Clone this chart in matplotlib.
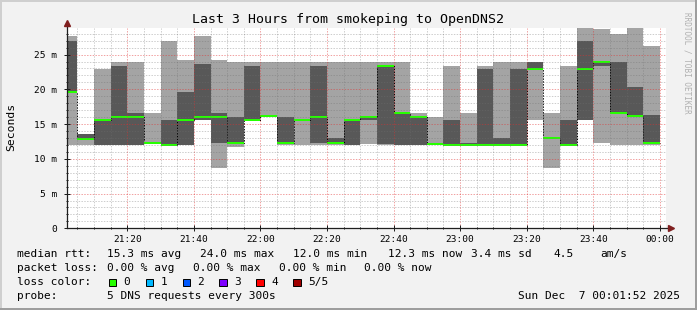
# =========================
# IMPORTS
# =========================
import numpy as np
import pandas as pd
import matplotlib
matplotlib.use("Agg")
import matplotlib.pyplot as plt
import matplotlib.dates as mdates
from matplotlib.patches import Rectangle

plt.rcParams['font.family'] = 'DejaVu Sans Mono'

# =========================
# DATA (ms, 5 DNS pings per 300s step, sorted)
# =========================
step_end = pd.date_range('2025-12-06 21:05', '2025-12-07 00:00', freq='5min')
t_start = pd.Timestamp('2025-12-06 21:01:52')
t_end = pd.Timestamp('2025-12-07 00:01:52')

ping_min = [12.0, 12.0, 12.0, 12.0, 12.0, 12.2, 11.95, 12.0, 15.58, 8.72,
            11.75, 15.55, 16.0, 12.0, 12.0, 12.0, 12.0, 12.0, 12.1, 12.0,
            12.0, 12.0, 12.0, 12.0, 12.0, 12.0, 12.0, 12.0, 15.58, 8.72,
            11.8, 15.58, 12.27, 12.0, 12.0, 12.0]
ping_lo = [19.66, 12.8, 12.0, 12.0, 12.0, 12.25, 11.95, 12.0, 15.58, 12.27,
           12.2, 15.55, 16.1, 12.2, 15.6, 12.3, 12.3, 12.0, 15.58, 12.2,
           12.0, 12.0, 12.2, 12.0, 12.0, 12.0, 12.0, 12.0, 22.92, 13.0,
           12.0, 15.58, 23.4, 16.59, 16.1, 12.3]
median = [19.66, 12.8, 15.65, 16.06, 16.06, 12.27, 12.0, 15.65, 16.06, 16.06,
          12.25, 15.65, 16.15, 12.3, 15.65, 16.06, 12.3, 15.6, 16.06, 23.38,
          16.6, 16.06, 12.2, 12.0, 12.0, 12.0, 12.0, 12.0, 22.92, 13.0,
          12.0, 22.92, 23.97, 16.59, 16.1, 12.3]
ping_hi = [26.95, 13.57, 15.75, 23.35, 16.55, 12.3, 15.58, 19.66, 23.64, 16.55,
           16.06, 23.35, 16.2, 15.97, 15.7, 23.35, 13.04, 15.7, 16.1, 23.4,
           16.6, 16.1, 12.25, 15.58, 12.3, 22.92, 13.04, 22.92, 23.97, 13.0,
           15.58, 26.95, 24.1, 23.97, 20.38, 16.3]
ping_max = [27.67, 13.57, 22.92, 23.97, 23.97, 16.55, 26.95, 24.22, 27.67, 24.22,
            23.97, 23.97, 23.97, 23.97, 23.97, 23.97, 23.97, 23.97, 23.97, 23.97,
            23.97, 16.55, 15.97, 23.35, 16.55, 23.35, 23.97, 23.97, 23.97, 16.55,
            23.35, 28.85, 28.7, 27.96, 28.85, 26.23]

y_ticks = [0, 5, 10, 15, 20, 25]
y_labels = ['0', '5 m', '10 m', '15 m', '20 m', '25 m']

loss_labels = ['0', '1', '2', '3', '4', '5/5']
loss_colors = ['#26ff00', '#00b8ff', '#0059ff', '#7e00ff', '#ff0000', '#a00000']

legend_rows = [
    [('median rtt:', 16.7), ('15.3 ms avg', 107.3), ('24.0 ms max', 200.0),
     ('12.0 ms min', 292.7), ('12.3 ms now', 387.7), ('3.4 ms sd', 471.0),
     ('4.5', 553.3), ('am/s', 600.0)],
    [('packet loss:', 16.7), ('0.00 % avg', 107.3), ('0.00 % max', 193.3),
     ('0.00 % min', 279.3), ('0.00 % now', 364.3)],
    [('loss color:', 16.7)],
    [('probe:', 16.7), ('5 DNS requests every 300s', 107.3)],
]

# =========================
# FIGURE
# =========================
W, H = 697, 310
fig = plt.figure(figsize=(W / 100, H / 100), dpi=100, facecolor='#f2f2f2')


def fx(x):
    return x / W


def fy(y):
    return 1 - y / H


# shaded frame
fig.add_artist(Rectangle((0, fy(2)), 1, 2 / H, transform=fig.transFigure, color='#cfcfcf', lw=0))
fig.add_artist(Rectangle((0, 0), 2 / W, 1, transform=fig.transFigure, color='#cfcfcf', lw=0))
fig.add_artist(Rectangle((0, 0), 1, 2 / H, transform=fig.transFigure, color='#9e9e9e', lw=0))
fig.add_artist(Rectangle((fx(W - 2), 0), 2 / W, 1, transform=fig.transFigure, color='#9e9e9e', lw=0))

ax = fig.add_axes([fx(67), fy(228.3), 599 / W, (228.3 - 27.8) / H])
ax.set_facecolor('white')

# =========================
# SMOKE + MEDIAN
# =========================
x_end = mdates.date2num(step_end)
width = 5 / 1440.0
x_left = x_end - width
lo = np.array(ping_min)
hi = np.array(ping_max)
dlo = np.array(ping_lo)
dhi = np.array(ping_hi)
med = np.array(median)

ax.bar(x_left, hi - lo, bottom=lo, width=width, align='edge', color='#a4a4a4', lw=0, zorder=1)
ax.bar(x_left, dhi - dlo, bottom=dlo, width=width, align='edge', color='#585858', lw=0, zorder=1.1)

sw = 28.85 / 200.5
ax.step(np.append(x_left, x_end[-1]), np.append(med, med[-1]), where='post',
        color='black', lw=0.72, linestyle=(0, (1.4, 1.4)), zorder=1.3)
ax.bar(x_left, 2 * sw, bottom=med - sw, width=width, align='edge',
       color=loss_colors[0], lw=0, zorder=1.5)

# =========================
# AXES / GRID
# =========================
ax.set_xlim(mdates.date2num(t_start), mdates.date2num(t_end))
ax.set_ylim(0, 28.85)

ax.xaxis.set_major_locator(mdates.MinuteLocator(byminute=[0, 20, 40]))
ax.xaxis.set_minor_locator(mdates.MinuteLocator(byminute=range(0, 60, 5)))
ax.xaxis.set_major_formatter(mdates.DateFormatter('%H:%M'))
ax.set_yticks(y_ticks)
ax.set_yticklabels(y_labels)
ax.set_yticks(np.arange(1, 29), minor=True)

ax.set_axisbelow(False)
ax.grid(which='minor', color='#707070', alpha=0.35, lw=0.72, linestyle=(0, (1.4, 1.4)))
ax.grid(which='major', color='#e03030', alpha=0.45, lw=0.72, linestyle=(0, (1.4, 1.4)))

for s in ax.spines.values():
    s.set_visible(False)

axis_col = '#1f1f1f'
arrow_col = '#801f1f'
ax.tick_params(which='both', direction='inout', color=axis_col, width=0.72)
ax.tick_params(which='major', length=4, labelsize=6.8, pad=3)
ax.tick_params(which='minor', length=2)
ax.tick_params(axis='y', which='major', pad=5)

ax.plot([0, 1.006], [0, 0], transform=ax.transAxes, color=axis_col, lw=0.9, clip_on=False, zorder=5)
ax.plot([0, 0], [0, 1.015], transform=ax.transAxes, color=axis_col, lw=0.9, clip_on=False, zorder=5)
ax.plot([1.0085], [0], transform=ax.transAxes, marker='>', ms=4, color=arrow_col, clip_on=False, zorder=6)
ax.plot([0], [1.022], transform=ax.transAxes, marker='^', ms=4, color=arrow_col, clip_on=False, zorder=6)

# =========================
# TEXT
# =========================
fig.text(fx(348), fy(19.3), 'Last 3 Hours from smokeping to OpenDNS2',
         ha='center', va='center', fontsize=9.5)
fig.text(fx(11), fy(127), 'Seconds', rotation=90, ha='center', va='center', fontsize=8.2)
fig.text(fx(687), fy(63), 'RRDTOOL / TOBI OETIKER', rotation=270, ha='center', va='center',
         fontsize=5.5, color='#b0b0b0')

txt_size = 8.0
row_y = [254, 268, 282.2, 296.3]
for row, yy in zip(legend_rows, row_y):
    for txt, xx in row:
        fig.text(fx(xx), fy(yy), txt, ha='left', va='center', fontsize=txt_size)

box_x = [108.7, 145.7, 182.7, 219.3, 256.3, 293.3]
lab_x = [123.3, 160.3, 197.3, 234.3, 271.0, 308.0]
for lab, col, bx, lx in zip(loss_labels, loss_colors, box_x, lab_x):
    fig.add_artist(Rectangle((fx(bx), fy(286)), 7.5 / W, 7.5 / H, transform=fig.transFigure,
                             facecolor=col, edgecolor='black', lw=0.7))
    fig.text(fx(lx), fy(282.2), lab, ha='left', va='center', fontsize=txt_size)

fig.text(fx(680), fy(296.3), 'Sun Dec  7 00:01:52 2025', ha='right', va='center', fontsize=txt_size)

plt.savefig('out.png', dpi=100, facecolor=fig.get_facecolor())
